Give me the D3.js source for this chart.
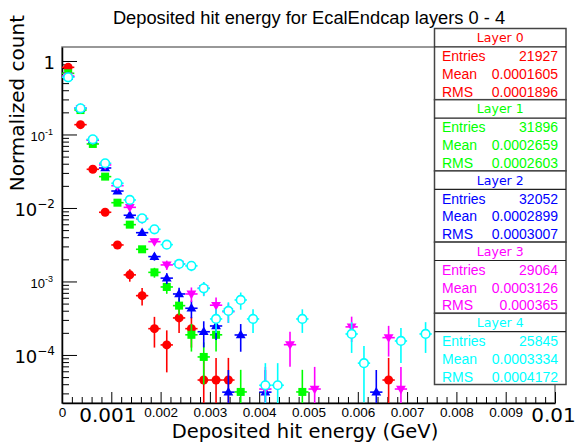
<!DOCTYPE html>
<html>
<head>
<meta charset="utf-8">
<script src="https://cdn.jsdelivr.net/npm/d3@7"></script>
<style>
  body { margin: 0; background: #fff; }
  svg { display: block; }
</style>
</head>
<body>
<div id="chart"></div>
<script>
// histogram binning (40 bins of 0.00025 GeV between 0 and 0.01, only the first 30 hold entries)
const binWidth = 0.00025
const xTicksMajor = [0, 0.001, 0.002, 0.003, 0.004, 0.005, 0.006, 0.007, 0.008, 0.009, 0.01]
const xTickLabels = ['0', '0.001', '0.002', '0.003', '0.004', '0.005', '0.006', '0.007', '0.008', '0.009', '0.01']
const yTicksMajor = [1, 1e-1, 1e-2, 1e-3, 1e-4]
const yTickExp = ['0', '-1', '-2', '-3', '-4']

const layerNames = ['Layer 0', 'Layer 1', 'Layer 2', 'Layer 3', 'Layer 4']
const entries = [21927, 31896, 32052, 29064, 25845]
const means = ['0.0001605', '0.0002659', '0.0002899', '0.0003126', '0.0003334']
const rmsValues = ['0.0001896', '0.0002603', '0.0003007', '0.000365', '0.0004172']

// normalized counts per bin (0 = empty bin)
const layer0 = [0.82, 0.136, 0.0336, 0.00874, 0.00314, 0.00123, 0.000641, 0.000228, 0.000137, 0.000319,
  0.000228, 4.56e-5, 4.56e-5, 4.56e-5, 0, 0, 0, 0, 0, 0,
  0, 0, 0, 0, 0, 0, 4.56e-5, 0, 0, 0]
const layer1 = [0.68, 0.215, 0.0743, 0.0267, 0.0118, 0.00593, 0.00274, 0.00133, 0.000842, 0.000469,
  0.000188, 9.4e-5, 0.000188, 0, 3.14e-5, 0, 0, 0, 0, 3.14e-5,
  0, 0, 0, 0, 0, 0, 0, 0, 0, 0]
const layer2 = [0.611, 0.227, 0.0842, 0.035, 0.017, 0.00796, 0.00461, 0.00218, 0.00111, 0.000676,
  0.000432, 0.000207, 0.000248, 3.12e-5, 0.000187, 0, 3.12e-5, 0, 0, 0,
  0, 0, 0, 0, 0, 3.12e-5, 0, 0, 0, 0]
const layer3 = [0.625, 0.227, 0.0842, 0.0385, 0.0201, 0.0102, 0.00709, 0.00348, 0.00168, 0.00173,
  0.000676, 0.000807, 0.000475, 0.000388, 0, 0, 3.44e-5, 0, 0.000138, 0,
  3.44e-5, 0, 0, 0.000241, 0, 0, 0.000172, 3.44e-5, 0, 0]
const layer4 = [0.6, 0.227, 0.086, 0.0406, 0.0217, 0.01285, 0.00724, 0.00513, 0.00317, 0.00173,
  0.00163, 0.000807, 0.000309, 0.000397, 0.00056, 0.000309, 3.87e-5, 3.87e-5, 0, 0.000309,
  0, 0, 0, 0.000193, 7.74e-5, 0, 0, 0.000155, 0, 0.000193]

const series = [layer0, layer1, layer2, layer3, layer4]
const colors = ['#ff0000', '#00ff00', '#0000ff', '#ff00ff', '#00ffff']

// Dimensions
const dimensions = {
  width: 578,
  height: 442,
  margins: { left: 62, right: 23, top: 47, bottom: 39 },
}
const x0 = dimensions.margins.left
const x1 = dimensions.width - dimensions.margins.right
const y0 = dimensions.margins.top
const y1 = dimensions.height - dimensions.margins.bottom

const bigFont = 'DejaVu Sans, Verdana, sans-serif'
const smallFont = 'Liberation Sans, Arial, Helvetica, sans-serif'

// Scales
const xScale = d3.scaleLinear().domain([0, 0.01]).range([x0, x1])
const yScale = d3.scaleLog().domain([2.22e-5, 1.55]).range([y1, y0])

const svg = d3.select('#chart').append('svg')
  .attr('width', dimensions.width)
  .attr('height', dimensions.height)

// Title
svg.append('text')
  .attr('x', 309).attr('y', 24)
  .attr('text-anchor', 'middle')
  .style('font-family', smallFont).style('font-size', '18.3px')
  .text('Deposited hit energy for EcalEndcap layers 0 - 4')

// frame
svg.append('rect')
  .attr('x', x0).attr('y', y0).attr('width', x1 - x0).attr('height', y1 - y0)
  .attr('fill', 'none').attr('stroke', '#777').attr('stroke-width', 1.5)

// minor ticks
const xMinor = d3.range(0, 51).map((i) => i * 0.0002).filter((v, i) => i % 5 !== 0)
svg.append('g').attr('transform', `translate(0,${y1})`)
  .call(d3.axisBottom(xScale).tickValues(xMinor).tickSize(-6).tickFormat(''))
  .call((g) => g.select('.domain').remove())

const yMinor = []
for (let e = -5; e <= 0; e++) {
  for (let m = 2; m <= 9; m++) {
    const v = m * Math.pow(10, e)
    if (v > 2.22e-5 && v < 1.55) yMinor.push(v)
  }
}
svg.append('g').attr('transform', `translate(${x0},0)`)
  .call(d3.axisLeft(yScale).tickValues(yMinor).tickSize(-7).tickFormat(''))
  .call((g) => g.select('.domain').remove())

// x axis
const isBigX = (i) => i === 1 || i === 10
const xAxisGroup = svg.append('g').attr('transform', `translate(0,${y1})`)
  .call(d3.axisBottom(xScale).tickValues(xTicksMajor).tickSizeInner(-11).tickSizeOuter(0).tickPadding(4)
    .tickFormat((d, i) => xTickLabels[i]))
xAxisGroup.select('.domain').attr('stroke', '#000').attr('stroke-width', 1.5)
xAxisGroup.selectAll('.tick text')
  .attr('fill', '#000')
  .style('font-family', (d, i) => (isBigX(i) ? bigFont : smallFont))
  .style('font-size', (d, i) => (isBigX(i) ? '20px' : '13.5px'))
  .attr('x', (d, i) => (i === 1 ? -4 : i === 10 ? -2 : 0))
  .attr('y', (d, i) => (isBigX(i) ? 5 : 4))

// y axis
const yAxisGroup = svg.append('g').attr('transform', `translate(${x0},0)`)
  .call(d3.axisLeft(yScale).tickValues(yTicksMajor).tickSizeInner(-15).tickSizeOuter(0).tickPadding(6)
    .tickFormat(''))
yAxisGroup.select('.domain').attr('stroke', '#000').attr('stroke-width', 1.5)
yAxisGroup.selectAll('.tick').each(function (d, i) {
  const big = i % 2 === 0
  const t = d3.select(this).select('text')
    .attr('fill', '#000')
    .attr('x', big ? -7 : -9)
    .attr('dy', big ? '0.4em' : '0.45em')
    .style('font-family', big ? bigFont : smallFont)
    .style('font-size', big ? '18px' : '13px')
  if (i === 0) {
    t.text('1')
  } else {
    t.append('tspan').text('10')
    t.append('tspan')
      .attr('dy', big ? -8 : -6)
      .style('font-size', big ? '12px' : '9px')
      .text(yTickExp[i].replace('-', big ? '\u2212' : '-'))
  }
})

// axis titles
svg.append('text')
  .attr('x', 305).attr('y', 437.5)
  .attr('text-anchor', 'middle')
  .style('font-family', bigFont).style('font-size', '19.5px')
  .text('Deposited hit energy (GeV)')

svg.append('text')
  .attr('transform', 'translate(24,15) rotate(-90)')
  .attr('text-anchor', 'end')
  .style('font-family', bigFont).style('font-size', '20px')
  .text('Normalized count')

// points with error bars
const ctr = svg.append('g')
const half = binWidth / 2
series.forEach((vals, s) => {
  const pts = vals.map((v, i) => ({ i, v })).filter((d) => d.v > 0)
  const g = ctr.append('g')
  const color = colors[s]
  pts.forEach((d) => {
    const xc = (d.i + 0.5) * binWidth
    const err = Math.sqrt(d.v / entries[s])
    const lo = d.v - err
    g.append('line')
      .attr('x1', xScale(xc)).attr('x2', xScale(xc))
      .attr('y1', yScale(d.v + err))
      .attr('y2', lo > yScale.domain()[0] ? yScale(lo) : y1)
      .attr('stroke', color).attr('stroke-width', 1.6)
    g.append('line')
      .attr('x1', xScale(xc - half)).attr('x2', xScale(xc + half))
      .attr('y1', yScale(d.v)).attr('y2', yScale(d.v))
      .attr('stroke', color).attr('stroke-width', 1.6)
  })
  const px = (d) => xScale((d.i + 0.5) * binWidth)
  const py = (d) => yScale(d.v)
  if (s === 0) {
    g.selectAll('circle').data(pts).join('circle')
      .attr('cx', px).attr('cy', py).attr('r', 4.5).attr('fill', color)
  } else if (s === 1) {
    g.selectAll('rect').data(pts).join('rect')
      .attr('x', (d) => px(d) - 4).attr('y', (d) => py(d) - 4)
      .attr('width', 8).attr('height', 8).attr('fill', color)
  } else if (s === 2 || s === 3) {
    g.selectAll('path').data(pts).join('path')
      .attr('d', d3.symbol(d3.symbolTriangle, 42))
      .attr('transform', (d) => `translate(${px(d)},${py(d) + (s === 2 ? 0.5 : -0.5)}) rotate(${s === 2 ? 0 : 180})`)
      .attr('fill', color)
  } else {
    g.selectAll('circle').data(pts).join('circle')
      .attr('cx', px).attr('cy', py).attr('r', 4.3)
      .attr('fill', 'white').attr('stroke', color).attr('stroke-width', 1.6)
  }
})

// stat boxes
const boxX = 434.5
const boxW = 131.5
const boxTop = 28.5
const boxH = 71.2
layerNames.forEach((name, s) => {
  const t = boxTop + s * boxH
  const b = svg.append('g')
  b.append('rect')
    .attr('x', boxX).attr('y', t).attr('width', boxW).attr('height', boxH)
    .attr('fill', 'white').attr('stroke', '#444').attr('stroke-width', 1.5)
  b.append('line')
    .attr('x1', boxX).attr('x2', boxX + boxW).attr('y1', t + 18.4).attr('y2', t + 18.4)
    .attr('stroke', '#222').attr('stroke-width', 1.2)
  b.append('text')
    .attr('x', boxX + boxW / 2).attr('y', t + 13.7)
    .attr('text-anchor', 'middle')
    .attr('fill', colors[s])
    .style('font-family', bigFont).style('font-size', '12.5px')
    .text(name)
  const rows = [['Entries', String(entries[s])], ['Mean', means[s]], ['RMS', rmsValues[s]]]
  rows.forEach((r, k) => {
    const yy = t + 32.6 + k * 17.8
    b.append('text').attr('x', boxX + 7.5).attr('y', yy)
      .attr('fill', colors[s])
      .style('font-family', smallFont).style('font-size', '14px')
      .text(r[0])
    b.append('text').attr('x', boxX + boxW - 8).attr('y', yy)
      .attr('text-anchor', 'end')
      .attr('fill', colors[s])
      .style('font-family', smallFont).style('font-size', '14px')
      .text(r[1])
  })
})
</script>
</body>
</html>
